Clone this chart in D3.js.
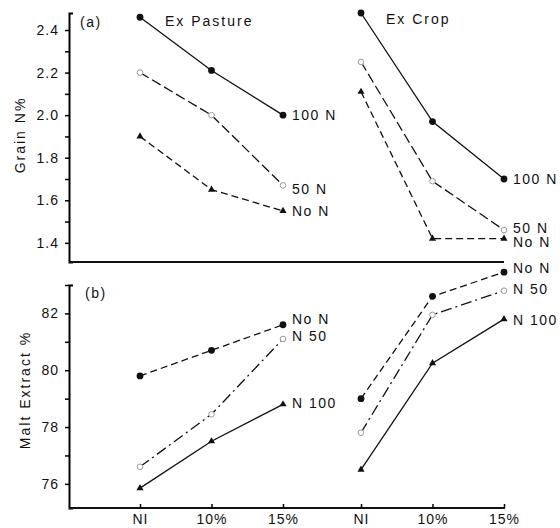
<!DOCTYPE html>
<html>
<head>
<meta charset="utf-8">
<script src="https://cdn.jsdelivr.net/npm/d3@7"></script>
<style>
  body { margin: 0; background: white; }
  text { font-family: "Liberation Sans", Arial, sans-serif; fill: #111; }
</style>
</head>
<body>
<div id="chart-area"></div>
<script>
// Grain N% (a) and Malt Extract % (b), two preceding-crop groups side by side

const groups = ['Ex Pasture', 'Ex Crop'];
const levels = ['NI', '10%', '15%'];

// panel (a) series, values: Ex Pasture NI,10%,15% then Ex Crop NI,10%,15%
const grainSeries = ['100 N', '50 N', 'No N'];
const grain100N = [2.46, 2.21, 2.00, 2.48, 1.97, 1.70];
const grain50N = [2.20, 2.00, 1.67, 2.25, 1.69, 1.46];
const grainNoN = [1.90, 1.65, 1.55, 2.11, 1.42, 1.42];

// panel (b) series
const maltSeries = ['No N', 'N 50', 'N 100'];
const maltNoN = [79.8, 80.7, 81.6, 79.0, 82.6, 83.45];
const maltN50 = [76.6, 78.45, 81.1, 77.8, 81.95, 82.8];
const maltN100 = [75.85, 77.5, 78.8, 76.5, 80.25, 81.8];

const grainTicks = [1.4, 1.5, 1.6, 1.7, 1.8, 1.9, 2.0, 2.1, 2.2, 2.3, 2.4];
const grainTickLabels = ['1.4', '', '1.6', '', '1.8', '', '2.0', '', '2.2', '', '2.4'];
const maltTicks = [76, 77, 78, 79, 80, 81, 82, 83];
const maltTickLabels = ['76', '', '78', '', '80', '', '82', ''];

const width = 560;
const height = 528;

const svg = d3.select('#chart-area')
    .append('svg')
    .attr('width', width)
    .attr('height', height);

// Scales
const xGroup = d3.scalePoint().domain(groups).range([140, 361]);
const xLevel = d3.scalePoint().domain(levels).range([0, 143]);
const xPos = (i) => xGroup(groups[Math.floor(i / 3)]) + xLevel(levels[i % 3]);

const yA = d3.scaleLinear().domain([1.31, 2.48]).range([262, 13]);
const yB = d3.scaleLinear().domain([75.15, 83]).range([508, 285]);

const axisX = 69;

// styles per series
const styleA = {
    '100 N': { dash: null, marker: 'dot' },
    '50 N': { dash: '10,4', marker: 'open' },
    'No N': { dash: '7,4', marker: 'tri' }
};
const styleB = {
    'No N': { dash: '7,4', marker: 'dot' },
    'N 50': { dash: '11,4,2,4', marker: 'open' },
    'N 100': { dash: null, marker: 'tri' }
};
// small vertical nudges for the end labels [pasture, crop]
const nudgeA = { '100 N': [0, 0], '50 N': [4, -2], 'No N': [0, 4] };
const nudgeB = { 'No N': [-6, -4], 'N 50': [-3, -2], 'N 100': [-1, 1] };

function drawPanel(g, y, seriesNames, seriesValues, styles, nudges) {
    const line = d3.line()
        .x((d) => xPos(d.i))
        .y((d) => y(d.v));

    seriesNames.forEach((name, s) => {
        const vals = seriesValues[s];
        const st = styles[name];
        groups.forEach((grp, gi) => {
            const pts = [0, 1, 2].map((k) => ({ i: gi * 3 + k, v: vals[gi * 3 + k] }));
            g.append('path')
                .datum(pts)
                .attr('d', line)
                .attr('fill', 'none')
                .attr('stroke', '#111')
                .attr('stroke-width', 1.3)
                .attr('stroke-dasharray', st.dash);

            const marks = g.selectAll(null).data(pts).enter();
            if (st.marker === 'dot') {
                marks.append('circle')
                    .attr('cx', (d) => xPos(d.i))
                    .attr('cy', (d) => y(d.v))
                    .attr('r', 3.4)
                    .attr('fill', '#111');
            } else if (st.marker === 'open') {
                marks.append('circle')
                    .attr('cx', (d) => xPos(d.i))
                    .attr('cy', (d) => y(d.v))
                    .attr('r', 2.8)
                    .attr('fill', 'white')
                    .attr('stroke', '#999')
                    .attr('stroke-width', 1);
            } else {
                marks.append('path')
                    .attr('d', d3.symbol(d3.symbolTriangle, 22))
                    .attr('transform', (d) => `translate(${xPos(d.i)},${y(d.v)})`)
                    .attr('fill', '#111');
            }

            const last = pts[2];
            g.append('text')
                .attr('x', xPos(last.i) + 9)
                .attr('y', y(last.v) + nudges[name][gi])
                .attr('dy', '0.35em')
                .attr('font-size', 14)
                .attr('letter-spacing', 1.5)
                .text(name);
        });
    });
}

// Panel (a)
const panelA = svg.append('g');
panelA.append('g')
    .attr('transform', `translate(${axisX},0)`)
    .call(d3.axisLeft(yA)
        .tickValues(grainTicks)
        .tickFormat((d, i) => grainTickLabels[i])
        .tickSizeInner(4)
        .tickSizeOuter(-4)
        .tickPadding(6))
    .call((a) => a.select('.domain').attr('stroke-width', 2))
    .call((a) => a.selectAll('.tick line').attr('stroke-width', 1.5))
    .call((a) => a.selectAll('.tick text')
        .attr('font-size', 14)
        .attr('letter-spacing', 1)
        .attr('font-family', '"Liberation Sans", Arial, sans-serif'));

panelA.append('line')
    .attr('x1', axisX).attr('x2', 504)
    .attr('y1', yA.range()[0]).attr('y2', yA.range()[0])
    .attr('stroke', '#111')
    .attr('stroke-width', 2);

drawPanel(panelA, yA, grainSeries, [grain100N, grain50N, grainNoN], styleA, nudgeA);

panelA.append('text')
    .attr('x', 80).attr('y', 22).attr('dy', '0.35em')
    .attr('font-size', 14).attr('letter-spacing', 1.5)
    .text('(a)');
panelA.append('text')
    .attr('x', 165).attr('y', 21).attr('dy', '0.35em')
    .attr('font-size', 14).attr('letter-spacing', 2)
    .text(groups[0]);
panelA.append('text')
    .attr('x', 386).attr('y', 19).attr('dy', '0.35em')
    .attr('font-size', 14).attr('letter-spacing', 2)
    .text(groups[1]);

svg.append('text')
    .attr('transform', 'translate(20,135) rotate(-90)')
    .attr('text-anchor', 'middle')
    .attr('dy', '0.35em')
    .attr('font-size', 14)
    .attr('letter-spacing', 2)
    .text('Grain N%');

// Panel (b)
const panelB = svg.append('g');
panelB.append('g')
    .attr('transform', `translate(${axisX},0)`)
    .call(d3.axisLeft(yB)
        .tickValues(maltTicks)
        .tickFormat((d, i) => maltTickLabels[i])
        .tickSizeInner(4)
        .tickSizeOuter(-4)
        .tickPadding(6))
    .call((a) => a.select('.domain').attr('stroke-width', 2))
    .call((a) => a.selectAll('.tick line').attr('stroke-width', 1.5))
    .call((a) => a.selectAll('.tick text')
        .attr('font-size', 14)
        .attr('letter-spacing', 1)
        .attr('font-family', '"Liberation Sans", Arial, sans-serif'));

// bottom axis with upward ticks at each category
const xKeys = d3.range(6).map((i) => groups[Math.floor(i / 3)] + '|' + levels[i % 3]);
const xOrd = d3.scaleOrdinal().domain(xKeys).range(d3.range(6).map(xPos));
panelB.append('line')
    .attr('x1', axisX).attr('x2', 505)
    .attr('y1', yB.range()[0]).attr('y2', yB.range()[0])
    .attr('stroke', '#111')
    .attr('stroke-width', 2);
panelB.append('g')
    .attr('transform', `translate(0,${yB.range()[0]})`)
    .call(d3.axisBottom(xOrd)
        .tickFormat((d) => d.split('|')[1])
        .tickSizeInner(-4)
        .tickSizeOuter(0)
        .tickPadding(6))
    .call((a) => a.select('.domain').remove())
    .call((a) => a.selectAll('.tick line').attr('stroke-width', 1.5))
    .call((a) => a.selectAll('.tick text')
        .attr('font-size', 14)
        .attr('letter-spacing', 1)
        .attr('font-family', '"Liberation Sans", Arial, sans-serif'));

drawPanel(panelB, yB, maltSeries, [maltNoN, maltN50, maltN100], styleB, nudgeB);

panelB.append('text')
    .attr('x', 85).attr('y', 293).attr('dy', '0.35em')
    .attr('font-size', 14).attr('letter-spacing', 1.5)
    .text('(b)');

svg.append('text')
    .attr('transform', 'translate(25,390) rotate(-90)')
    .attr('text-anchor', 'middle')
    .attr('dy', '0.35em')
    .attr('font-size', 14)
    .attr('letter-spacing', 2)
    .text('Malt Extract %');
</script>
</body>
</html>
